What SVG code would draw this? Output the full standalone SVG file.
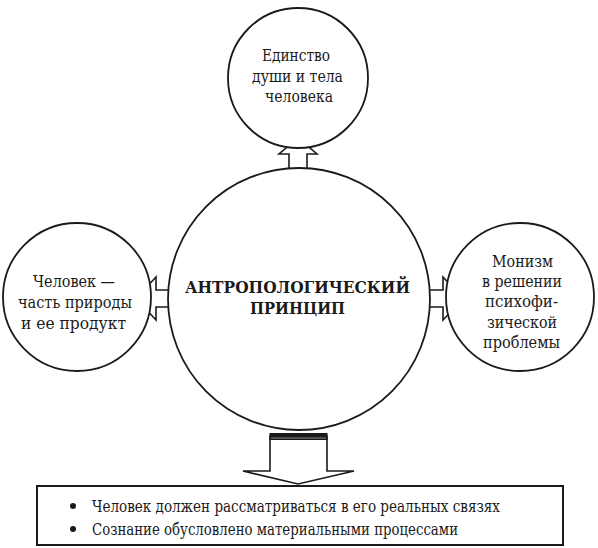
<svg xmlns="http://www.w3.org/2000/svg" width="598" height="548" viewBox="0 0 598 548">
<style>
.node{fill:#fff;stroke:#1a1a1a;stroke-width:1.8}
.arr{fill:#fff;stroke:#1a1a1a;stroke-width:1.6;stroke-linejoin:miter}
text{font-family:"DejaVu Serif","Liberation Serif",serif;fill:#1a1a1a;font-size:17.5px;text-anchor:middle}
.title{font-weight:bold;font-size:17px}
.item{text-anchor:start;font-size:16px}
</style>
<rect width="598" height="548" fill="#fff"/>
<g id="connectors">
<polygon class="arr" points="289,176 289,154 279,154 298,138 317,154 307,154 307,176"/>
<polygon class="arr" points="176,290 156,290 156,277 136,298.5 156,320 156,307 176,307"/>
<polygon class="arr" points="422,290 443,290 443,277 463,298.5 443,320 443,307 422,307"/>
<polygon class="arr" points="270,436 270,471 243,471 298,484 354,471 327,471 327,436"/>
<rect x="269.5" y="433" width="58" height="7" fill="#1a1a1a"/>
<line x1="271" y1="438" x2="326" y2="438" stroke="#888" stroke-width="1"/>
</g>
<g id="node-top">
<circle class="node" cx="298" cy="78" r="70"/>
<text x="296" y="61" textLength="68" lengthAdjust="spacingAndGlyphs">Единство</text>
<text x="297.5" y="82" textLength="91" lengthAdjust="spacingAndGlyphs">души и тела</text>
<text x="299" y="102" textLength="68" lengthAdjust="spacingAndGlyphs">человека</text>
</g>
<g id="node-left">
<circle class="node" cx="77" cy="297" r="74"/>
<text x="74" y="287" textLength="82" lengthAdjust="spacingAndGlyphs">Человек —</text>
<text x="75" y="308" textLength="114" lengthAdjust="spacingAndGlyphs">часть природы</text>
<text x="73.5" y="329" textLength="105" lengthAdjust="spacingAndGlyphs">и ее продукт</text>
</g>
<g id="node-right">
<circle class="node" cx="520" cy="297" r="74"/>
<text x="522.5" y="267" textLength="61" lengthAdjust="spacingAndGlyphs">Монизм</text>
<text x="522" y="287" textLength="80" lengthAdjust="spacingAndGlyphs">в решении</text>
<text x="521.5" y="307" textLength="73" lengthAdjust="spacingAndGlyphs">психофи-</text>
<text x="522" y="328" textLength="70" lengthAdjust="spacingAndGlyphs">зической</text>
<text x="521.5" y="348" textLength="77" lengthAdjust="spacingAndGlyphs">проблемы</text>
</g>
<g id="node-center">
<circle class="node" cx="299" cy="299" r="131"/>
<text class="title" x="297.5" y="293" textLength="225" lengthAdjust="spacingAndGlyphs">АНТРОПОЛОГИЧЕСКИЙ</text>
<text class="title" x="297.5" y="314" textLength="95" lengthAdjust="spacingAndGlyphs">ПРИНЦИП</text>
</g>
<g id="node-box">
<rect x="37" y="486" width="526" height="59" fill="#fff" stroke="#1a1a1a" stroke-width="2"/>
<circle cx="73" cy="506" r="3" fill="#1a1a1a"/>
<circle cx="73" cy="529" r="3" fill="#1a1a1a"/>
<text class="item" x="92" y="512" textLength="408" lengthAdjust="spacingAndGlyphs">Человек должен рассматриваться в его реальных связях</text>
<text class="item" x="92" y="535" textLength="366" lengthAdjust="spacingAndGlyphs">Сознание обусловлено материальными процессами</text>
</g>
</svg>
